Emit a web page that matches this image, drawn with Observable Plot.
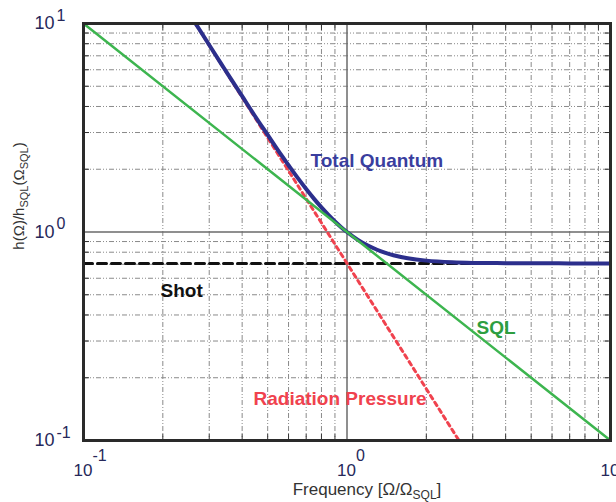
<!DOCTYPE html>
<html><head><meta charset="utf-8">
<script src="https://cdn.jsdelivr.net/npm/d3@7"></script>
<script src="https://cdn.jsdelivr.net/npm/@observablehq/plot@0.6"></script>
<style>body{margin:0;background:#fff;overflow:hidden} #chart svg{overflow:hidden;display:block}</style>
</head><body><div id="chart"></div>
<script>
// Total quantum noise curve
const freqTotal = [0.266,0.28,0.3,0.33,0.36,0.4,0.45,0.5,0.55,0.6,0.65,0.7,0.75,0.8,0.85,0.9,0.95,1,1.1,1.2,1.3,1.4,1.5,1.7,2,2.5,3,4,5,7,10];
const hTotal    = [10.02,9.05,7.89,6.53,5.50,4.48,3.56,2.92,2.44,2.09,1.817,1.607,1.442,1.312,1.207,1.123,1.055,1.0,0.917,0.861,0.822,0.794,0.774,0.748,0.729,0.716,0.711,0.709,0.708,0.7071,0.7071];
// Standard quantum limit
const freqSQL = [0.1, 10];
const hSQL    = [10, 0.1];
// Shot noise
const freqShot = [0.1, 10];
const hShot    = [0.707, 0.707];
// Radiation pressure noise
const freqRP = [0.266, 2.66];
const hRP    = [10, 0.1];
// Ticks
const majorTicks = [0.1, 1, 10];
const tickBase = ["10", "10", "10"];
const tickExp  = ["-1", "0", "1"];
const minorTicks = [0.2,0.3,0.4,0.5,0.6,0.7,0.8,0.9,2,3,4,5,6,7,8,9];
const gridMajor = [1];
// Curve labels
const labelText = ["Total Quantum", "Shot", "SQL", "Radiation Pressure"];

const F = "Liberation Sans, Arial, Helvetica, sans-serif";
const tot = freqTotal.map((f,i)=>({f, h:hTotal[i]}));
const sql = freqSQL.map((f,i)=>({f, h:hSQL[i]}));
const shot = freqShot.map((f,i)=>({f, h:hShot[i]}));
const rp = freqRP.map((f,i)=>({f, h:hRP[i]}));
const gridDash = "5,2,1,2,1,2";
const tickCol = "#26285a";
const lab = {textAnchor: "start", fontWeight: "bold", fontSize: 19, text: d=>d};

const chart = Plot.plot({
  width: 616, height: 502,
  marginLeft: 83, marginRight: 6, marginTop: 23, marginBottom: 62,
  style: {fontFamily: F, background: "#fff"},
  x: {type: "log", domain: [0.1, 10], axis: null},
  y: {type: "log", domain: [0.1, 10], axis: null},
  marks: [
    Plot.ruleX(minorTicks, {x: d=>d, stroke: "#8a8a8a", strokeWidth: 1, strokeDasharray: gridDash}),
    Plot.ruleY(minorTicks, {y: d=>d, stroke: "#8a8a8a", strokeWidth: 1, strokeDasharray: gridDash}),
    Plot.ruleX(gridMajor, {x: d=>d, stroke: "#6a6a6a", strokeWidth: 1.5}),
    Plot.ruleY(gridMajor, {y: d=>d, stroke: "#6a6a6a", strokeWidth: 1.5}),
    Plot.axisX(minorTicks, {anchor: "bottom", tickSize: -6, tickFormat: () => "", label: null, stroke: "#333"}),
    Plot.axisX(minorTicks, {anchor: "top", tickSize: -6, tickFormat: () => "", label: null, stroke: "#333"}),
    Plot.axisY(minorTicks, {anchor: "left", tickSize: -6, tickFormat: () => "", label: null, stroke: "#333"}),
    Plot.axisY(minorTicks, {anchor: "right", tickSize: -6, tickFormat: () => "", label: null, stroke: "#333"}),
    Plot.line(shot, {x: "f", y: "h", stroke: "#111", strokeWidth: 3, strokeDasharray: "9,5"}),
    Plot.line(rp, {x: "f", y: "h", stroke: "#f0424e", strokeWidth: 3, strokeDasharray: "4,4", clip: true}),
    Plot.line(tot, {x: "f", y: "h", stroke: "#2c2f8c", strokeWidth: 4, curve: "catmull-rom", clip: true}),
    Plot.line(sql, {x: "f", y: "h", stroke: "#3db54f", strokeWidth: 2.5}),
    Plot.frame({stroke: "#2a2a2a", strokeWidth: 3}),
    // curve labels
    Plot.text([labelText[0]], {...lab, x: 0.727, y: 2.2, fill: "#3a3e9e"}),
    Plot.text([labelText[1]], {...lab, x: 0.196, y: 0.524, fill: "#111"}),
    Plot.text([labelText[2]], {...lab, x: 3.1, y: 0.345, fill: "#2e9e40"}),
    Plot.text([labelText[3]], {...lab, x: 0.4417, y: 0.159, fill: "#f0424e"}),
    // x tick labels
    Plot.text(majorTicks, {x: d=>d, frameAnchor: "bottom", text: (d,i)=>tickBase[i], textAnchor: "end", lineAnchor: "bottom", dx: 9, dy: 35, fill: tickCol, fontSize: 17}),
    Plot.text(majorTicks, {x: d=>d, frameAnchor: "bottom", text: (d,i)=>tickExp[i], textAnchor: "start", lineAnchor: "bottom", dx: 9, dy: 20, fill: tickCol, fontSize: 16}),
    // y tick labels
    Plot.text(majorTicks, {y: d=>d, frameAnchor: "left", text: (d,i)=>tickBase[i], textAnchor: "end", lineAnchor: "middle", dx: -29, dy: 0, fill: tickCol, fontSize: 18}),
    Plot.text(majorTicks, {y: d=>d, frameAnchor: "left", text: (d,i)=>tickExp[i], textAnchor: "start", lineAnchor: "middle", dx: -27, dy: -8, fill: tickCol, fontSize: 16})
  ]
});
document.getElementById("chart").appendChild(chart);

const svg = d3.select(chart);
const yt = svg.append("text").attr("transform", "translate(24,196) rotate(-90)")
  .attr("text-anchor", "middle").attr("font-family", F).attr("font-size", 15).attr("fill", "#333");
yt.append("tspan").text("h(Ω)/h");
yt.append("tspan").attr("dy", 4).attr("font-size", 11).text("SQL");
yt.append("tspan").attr("dy", -4).text("(Ω");
yt.append("tspan").attr("dy", 4).attr("font-size", 11).text("SQL");
yt.append("tspan").attr("dy", -4).text(")");

const xt = svg.append("text").attr("x", 367).attr("y", 495)
  .attr("text-anchor", "middle").attr("font-family", F).attr("font-size", 17).attr("fill", "#333");
xt.append("tspan").text("Frequency [Ω/Ω");
xt.append("tspan").attr("dy", 4).attr("font-size", 12).text("SQL");
xt.append("tspan").attr("dy", -4).text("]");
</script>
</body></html>
